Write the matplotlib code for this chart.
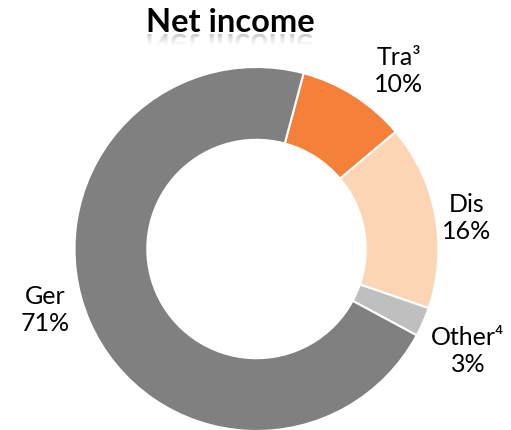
import matplotlib.pyplot as plt
from matplotlib.textpath import TextPath
from matplotlib.patches import PathPatch
from matplotlib.font_manager import FontProperties
import matplotlib.transforms as mtransforms

# Data
labels = ['Tra³', 'Dis', 'Other⁴', 'Ger']
shares = [9.7, 16.4, 2.6, 71.3]
colors = ['#F4803A', '#FCD5B4', '#BFBFBF', '#808080']
title = 'Net income'

plt.rcParams['font.family'] = ['Lato', 'DejaVu Sans']

W, H = 511, 430
fig = plt.figure(figsize=(W / 100, H / 100), dpi=100)
ax = fig.add_axes([0, 0, 1, 1])

# Donut, drawn in pixel-like data units (y up)
cx, cy, r = 256.5, H - 249, 182
wedges, _ = ax.pie(shares, colors=colors, startangle=75, counterclock=False,
                   center=(cx, cy), radius=r,
                   wedgeprops=dict(width=r * 0.4, edgecolor='white', linewidth=1.5))
ax.set_xlim(0, W)
ax.set_ylim(0, H)
ax.set_aspect('equal')
ax.axis('off')

# Slice labels
label_pos = [(399, H - 71), (467, H - 218), (468, H - 351), (45, H - 310)]
for lab, val, (x, y) in zip(labels, shares, label_pos):
  ax.text(x, y, '{}\n{:.0f}%'.format(lab, val), ha='center', va='center',
          fontsize=18, linespacing=1.25, color='black')

# Title
fp = FontProperties(family='Lato', weight='bold', size=23.5)
ax.text(230, H - 23, title, ha='center', va='center', fontproperties=fp,
        color='black')

# Faint fading reflection under the title
tp = TextPath((0, 0), title, prop=fp)
bb = tp.get_extents()
scale = 100 / 72
base = H - 34
tr = mtransforms.Affine2D().translate(-(bb.x0 + bb.x1) / 2, 0).scale(scale, -scale) \
  .translate(230, base)
refl_path = tr.transform_path(tp)
n_strips = 12
for i in range(n_strips):
  top = base - i
  patch = PathPatch(refl_path, facecolor='#888888', edgecolor='none',
                    alpha=0.45 * (1 - i / n_strips) ** 1.5)
  ax.add_patch(patch)
  # add_patch resets the clip, so set the strip clip afterwards
  patch.set_clip_path(None)
  patch.set_clip_box(mtransforms.TransformedBbox(
    mtransforms.Bbox.from_extents(0, top - 1, W, top), ax.transData))

fig.savefig('out.png', dpi=100)
